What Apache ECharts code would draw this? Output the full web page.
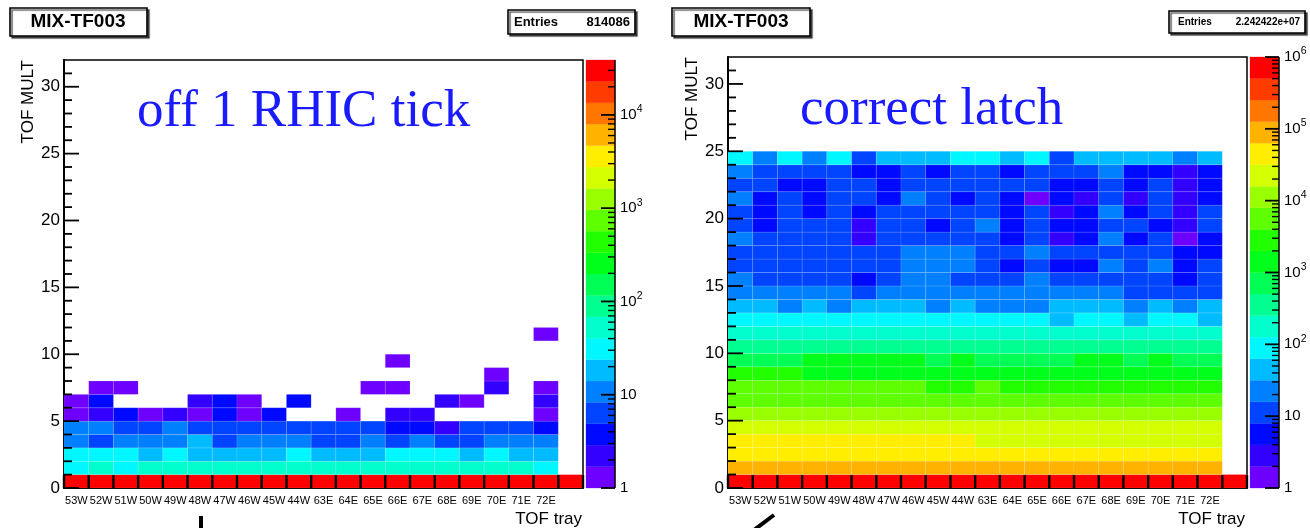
<!DOCTYPE html>
<html><head><meta charset="utf-8">
<script src="https://cdn.jsdelivr.net/npm/echarts@6/dist/echarts.min.js"></script>
<style>html,body{margin:0;padding:0;background:#fff}#c{width:1310px;height:528px}</style>
</head><body><div id="c"></div>
<script>
// ---- categories / ticks ----
const trays = ['53W','52W','51W','50W','49W','48W','47W','46W','45W','44W','63E','64E','65E','66E','67E','68E','69E','70E','71E','72E',''];
const multTicks = [0,5,10,15,20,25,30];
const multRange = [0, 32];
const leftDecades = [0,1,2,3,4];
const rightDecades = [0,1,2,3,4,5,6];
const rightZMax = 1000000;
// ROOT "pretty" palette, 20 contour levels (violet -> red)
const palette = ['#6e00ff','#3300ff','#0009ff','#0044ff','#0080ff','#00bbff','#00f7ff','#00ffcc','#00ff91','#00ff55',
                 '#00ff1a','#22ff00','#5eff00','#99ff00','#d4ff00','#ffee00','#ffb300','#ff7700','#ff3c00','#ff0000'];

// ---- left histogram ("off 1 RHIC tick"), rows = TOF MULT bin 0..11, columns = trays ----
const leftCounts = [
 [38745,38724,38590,38722,38703,38625,38738,38694,38680,38733,38634,38703,38625,38695,38742,38655,38700,38689,38713,38634,38586],
 [31,47,33,50,54,49,52,55,51,48,53,50,56,49,52,47,54,50,46,34,0],
 [28,26,27,19,29,21,18,20,17,27,19,20,22,26,30,25,21,28,19,20,0],
 [12,7,10,11,12,15,7,11,10,12,6,7,11,8,10,7,8,11,12,10,0],
 [10,9,6,7,9,7,6,6,7,6,5,6,7,4,3,2,6,7,6,4,0],
 [1,2,3,1,2,1,4,1,3,0,0,1,0,2,2,0,0,0,0,1,0],
 [1,3,0,0,0,2,4,1,0,3,0,0,0,0,0,2,1,0,0,2,0],
 [0,1,1,0,0,0,0,0,0,0,0,0,1,1,0,0,0,2,0,1,0],
 [0,0,0,0,0,0,0,0,0,0,0,0,0,0,0,0,0,1,0,0,0],
 [0,0,0,0,0,0,0,0,0,0,0,0,0,1,0,0,0,0,0,0,0],
 [0,0,0,0,0,0,0,0,0,0,0,0,0,0,0,0,0,0,0,0,0],
 [0,0,0,0,0,0,0,0,0,0,0,0,0,0,0,0,0,0,0,1,0]
];

// ---- right histogram ("correct latch"), rows = TOF MULT bin 0..24 ----
const rightCounts = [
 [867000,863500,856200,869800,864300,861700,866900,865400,858800,860100,868300,862600,864900,857400,865800,863100,861200,866200,859700,864500,867600],
 [91200,89400,90300,88700,90800,89900,91500,88200,90100,89300,87600,88900,90400,87900,88500,89100,87300,88800,89700,88400,0],
 [47500,46800,47100,46300,46900,47200,46600,46400,46100,45900,44800,45200,45500,44600,45100,44900,44300,44700,45300,44500,0],
 [34500,33900,34200,33600,33800,33400,33700,33100,33300,32900,30800,31100,30500,30900,31200,30300,30700,30400,30600,30200,0],
 [23500,23100,23300,22800,23000,22700,22900,22500,22600,22300,21800,22100,21600,21900,22000,21500,21700,21400,21600,21300,0],
 [12500,12200,12300,12000,12100,11900,12000,11700,11800,11600,11300,11500,11200,11400,11500,11100,11300,11000,11200,10900,0],
 [6200,6000,6100,5900,5900,5800,5900,5700,5600,5600,5500,5600,5400,5500,5500,5300,5400,5300,5400,5200,0],
 [4300,4200,4250,4150,4200,4100,4150,4050,3900,3850,4020,3900,3950,3880,3920,3850,3900,3870,3890,3860,0],
 [2150,2100,2050,1950,1960,1930,1940,1920,1900,1910,1890,1900,1880,1890,1870,1880,1860,1870,1850,1860,0],
 [980,970,990,1040,1060,1050,1070,1030,985,1020,970,960,975,990,1015,1025,980,1010,965,950,0],
 [420,410,400,395,405,390,400,385,380,390,375,380,370,378,372,368,365,370,362,360,0],
 [205,198,200,195,197,190,193,188,185,190,182,186,180,184,178,181,176,179,174,172,0],
 [88,84,86,82,85,80,83,78,79,76,75,77,72,60,70,68,58,69,66,59,0],
 [40,38,30,37,29,36,35,34,28,34,27,26,28,35,36,33,29,34,27,33,0],
 [22,20,19,20,18,14,19,21,20,18,19,20,18,19,18,17,15,14,14,13,0],
 [18,12,11,12,11,7,12,17,17,11,12,11,17,12,11,12,11,10,7,11,0],
 [11,10,11,10,11,10,11,17,17,18,10,7,11,6,7,17,10,17,7,10,0],
 [10,11,10,11,10,11,10,17,18,17,11,10,18,10,11,10,11,10,7,7,0],
 [17,10,11,10,10,3,11,10,10,11,10,6,10,3,6,17,6,10,1,6,0],
 [10,6,10,11,10,3,10,11,6,10,17,6,10,6,7,10,11,6,3,10,0],
 [10,6,11,6,10,6,11,10,11,10,11,6,10,3,6,18,6,10,3,10,0],
 [17,6,11,6,10,10,6,17,11,6,10,6,1,6,3,10,3,11,3,6,0],
 [10,11,6,6,10,11,6,10,11,10,11,10,11,6,7,10,6,11,3,6,0],
 [17,10,11,10,11,6,7,10,6,11,10,6,11,10,11,17,6,7,3,6,0],
 [80,22,85,20,82,11,50,48,45,78,84,52,88,12,47,49,46,50,21,44,0]
];

const leftZMax = Math.max(...leftCounts.flat());

// ---------------------------------------------------------------
const FONT = '"Liberation Sans", Arial, Helvetica, sans-serif';
const SERIF = '"Liberation Serif", "Times New Roman", serif';

function logMinor(decades, logMax) {
  const out = [];
  decades.forEach(n => { for (let k = 2; k <= 9; k++) { const v = n + Math.log10(k); if (v <= logMax + 1e-9) out.push(v); } });
  return out;
}
function decadeLabel(v) {
  const n = Math.round(v);
  if (n === 0) return '{b|1}';
  if (n === 1) return '{b|10}';
  return '{b|10}{s|' + n + '}';
}
function tickLine(x1, y1, x2, y2, w) {
  return { type: 'line', z2: 100, shape: { x1: x1, y1: y1, x2: x2, y2: y2 }, style: { stroke: '#000', lineWidth: w, opacity: 1 } };
}

const panels = [
  { counts: leftCounts, zMax: leftZMax, decades: leftDecades,
    grid: { left: 64, top: 60, width: 519, height: 428 }, bar: { left: 586, top: 60, width: 29, height: 428 } },
  { counts: rightCounts, zMax: rightZMax, decades: rightDecades,
    grid: { left: 728, top: 57, width: 519, height: 431 }, bar: { left: 1250, top: 57, width: 29, height: 431 } }
];

const grid = [], xAxis = [], yAxis = [], series = [];
panels.forEach((p, i) => {
  const logMax = Math.log10(p.zMax);
  const step = logMax / palette.length;
  const minorLog = logMinor(p.decades, logMax);
  grid.push(Object.assign({ show: true, borderColor: '#000', borderWidth: 1.5, backgroundColor: 'transparent' }, p.grid));
  grid.push(Object.assign({ show: false }, p.bar));

  xAxis.push({ gridIndex: 2 * i, type: 'category', data: trays, boundaryGap: true,
    axisLine: { show: true, onZero: false, lineStyle: { color: '#000', width: 2 } },
    axisTick: { show: false },
    axisLabel: { interval: 0, fontSize: 11, margin: 7, color: '#000', fontFamily: FONT },
    splitLine: { show: false } });
  xAxis.push({ gridIndex: 2 * i + 1, type: 'value', min: 0, max: 1, show: false });

  yAxis.push({ gridIndex: 2 * i, type: 'value', min: multRange[0], max: multRange[1], position: 'left',
    axisLine: { show: true, onZero: false, lineStyle: { color: '#000', width: 2 } },
    axisTick: { show: false },
    axisLabel: { customValues: multTicks, fontSize: 17, margin: 4, color: '#000', fontFamily: FONT },
    splitLine: { show: false } });
  yAxis.push({ gridIndex: 2 * i + 1, type: 'value', min: 0, max: logMax, position: 'right',
    axisLine: { show: false, onZero: false },
    axisTick: { show: false },
    axisLabel: { customValues: p.decades, margin: 5, formatter: decadeLabel,
      rich: { b: { fontSize: 15, fontFamily: FONT, color: '#000', lineHeight: 22 },
              s: { fontSize: 10.5, fontFamily: FONT, color: '#000', lineHeight: 10, verticalAlign: 'top' } } },
    splitLine: { show: false } });

  // histogram cells + one extra item (count -1) that carries the ROOT-style frame ticks
  const cells = [];
  p.counts.forEach((row, y) => row.forEach((v, x) => { if (v > 0) cells.push([x, y, v]); }));
  cells.push([0, 0, -1]);
  series.push({ type: 'custom', xAxisIndex: 2 * i, yAxisIndex: 2 * i, data: cells, z: 2, silent: true, clip: false,
    renderItem(params, api) {
      const x = api.value(0), y = api.value(1), v = api.value(2);
      const w = api.size([1, 0])[0];
      if (v < 0) {
        const x0 = api.coord([0, 0])[0] - w / 2;
        const y0 = api.coord([0, multRange[0]])[1];
        const children = [];
        for (let k = 0; k <= trays.length; k++) {
          const xx = x0 + k * w;
          children.push(tickLine(xx, y0, xx, y0 - 13, 2.4));
        }
        for (let t = multRange[0]; t < multRange[1]; t++) {
          const yy = api.coord([0, t])[1];
          const len = multTicks.indexOf(t) >= 0 ? 15 : 8;
          children.push(tickLine(x0, yy, x0 + len, yy, 1.8));
        }
        return { type: 'group', z2: 100, children: children };
      }
      const p0 = api.coord([x, y]);
      const p1 = api.coord([x, y + 1]);
      const idx = Math.max(0, Math.min(palette.length - 1, Math.floor(Math.log10(v) / step)));
      return { type: 'rect', z2: 0, shape: { x: p0[0] - w / 2, y: p1[1], width: w, height: p0[1] - p1[1] },
               style: { fill: palette[idx], stroke: 'rgba(255,255,255,0.2)', lineWidth: 0.6 } };
    } });
  // colour bar bands + one extra item (-1) carrying the log ticks
  const bands = palette.map((c, k) => [0.5, k]);
  bands.push([0.5, -1]);
  series.push({ type: 'custom', xAxisIndex: 2 * i + 1, yAxisIndex: 2 * i + 1, z: 2, silent: true, clip: false,
    data: bands,
    renderItem(params, api) {
      const k = api.value(1);
      if (k < 0) {
        const xr = api.coord([1, 0])[0];
        const children = [];
        p.decades.forEach(d => { const y = api.coord([1, d])[1]; children.push(tickLine(xr, y, xr - 14, y, 1.8)); });
        minorLog.forEach(d => { const y = api.coord([1, d])[1]; children.push(tickLine(xr, y, xr - 7, y, 1.4)); });
        children.push(tickLine(xr, api.coord([1, 0])[1], xr, api.coord([1, logMax])[1], 1.5));
        return { type: 'group', z2: 100, children: children };
      }
      const a = api.coord([0, k * step]);
      const b = api.coord([1, (k + 1) * step]);
      return { type: 'rect', z2: 0, shape: { x: a[0], y: b[1], width: b[0] - a[0], height: a[1] - b[1] },
               style: { fill: palette[k], stroke: palette[k], lineWidth: 0.3 } };
    } });
});

function txt(x, y, text, font, align, vAlign, extra, color) {
  return Object.assign({ type: 'text', x: x, y: y, z: 20,
    style: { text: text, font: font, fill: color || '#000', align: align, verticalAlign: vAlign, textAlign: align, textVerticalAlign: vAlign } }, extra || {});
}
function box(x, y, w, h) {
  return { type: 'rect', z: 19, shape: { x: x, y: y, width: w, height: h },
    style: { fill: '#fff', stroke: '#000', lineWidth: 1.6, shadowColor: 'rgba(0,0,0,0.6)', shadowOffsetX: 2, shadowOffsetY: 2, shadowBlur: 1 } };
}

const graphic = [
  box(10, 8, 137, 28), txt(78, 22, 'MIX-TF003', 'bold 19px ' + FONT, 'center', 'middle'),
  box(508, 10, 127, 24), txt(514, 22, 'Entries', 'bold 13px ' + FONT, 'left', 'middle'), txt(630, 22, '814086', 'bold 13px ' + FONT, 'right', 'middle'),
  box(672, 8, 138, 28), txt(741, 22, 'MIX-TF003', 'bold 19px ' + FONT, 'center', 'middle'),
  box(1169, 11, 136, 22), txt(1178, 22, 'Entries', 'bold 10px ' + FONT, 'left', 'middle'), txt(1300, 22, '2.242422e+07', 'bold 10px ' + FONT, 'right', 'middle'),
  txt(28, 60, 'TOF MULT', '17px ' + FONT, 'right', 'middle', { rotation: Math.PI / 2 }),
  txt(692, 57, 'TOF MULT', '17px ' + FONT, 'right', 'middle', { rotation: Math.PI / 2 }),
  txt(582, 519, 'TOF tray', '17px ' + FONT, 'right', 'middle'),
  txt(1245, 519, 'TOF tray', '17px ' + FONT, 'right', 'middle'),
  txt(137, 112, 'off 1 RHIC tick', '53px ' + SERIF, 'left', 'middle', null, '#1a1aff'),
  txt(800, 110, 'correct latch', '53px ' + SERIF, 'left', 'middle', null, '#1a1aff'),
  { type: 'line', z: 20, shape: { x1: 201, y1: 516, x2: 201, y2: 528 }, style: { stroke: '#000', lineWidth: 4 } },
  { type: 'line', z: 20, shape: { x1: 774, y1: 515, x2: 754, y2: 530 }, style: { stroke: '#000', lineWidth: 4 } }
];

const chart = echarts.init(document.getElementById('c'), null, { renderer: 'canvas', width: 1310, height: 528 });
chart.setOption({ animation: false, backgroundColor: '#fff', grid, xAxis, yAxis, series, graphic });
</script>
</body></html>
